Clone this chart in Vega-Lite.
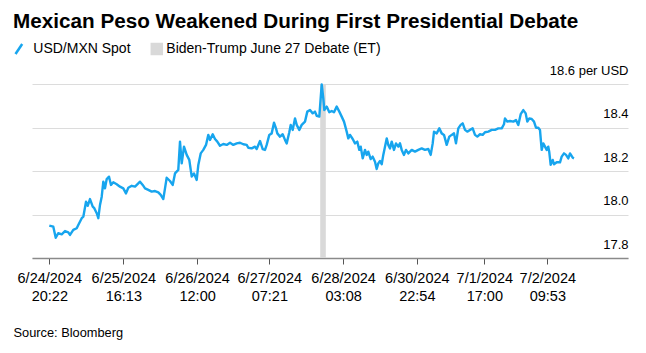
{
  "$schema": "https://vega.github.io/schema/vega-lite/v6.json",
  "width": 596,
  "height": 174,
  "autosize": {"type": "none"},
  "padding": {"left": 32, "top": 84, "right": 18, "bottom": 95},
  "background": "white",
  "config": {
    "font": "Liberation Sans",
    "view": {"stroke": null}
  },
  "title": {
    "text": "Mexican Peso Weakened During First Presidential Debate",
    "anchor": "start",
    "frame": "group",
    "baseline": "alphabetic",
    "fontSize": 20.7,
    "fontWeight": "bold",
    "color": "#000000",
    "dx": -19,
    "offset": -7
  },
  "datasets": {
    "fx": [
      {"h": 0, "v": 17.949}, {"h": 1.07, "v": 17.944}, {"h": 1.72, "v": 17.893}, {"h": 2.41, "v": 17.914},
      {"h": 3.32, "v": 17.909}, {"h": 4.21, "v": 17.924}, {"h": 5.09, "v": 17.918}, {"h": 5.55, "v": 17.906},
      {"h": 6.43, "v": 17.929}, {"h": 7.35, "v": 17.937}, {"h": 7.77, "v": 17.952}, {"h": 8.69, "v": 17.983},
      {"h": 9.12, "v": 17.99}, {"h": 9.84, "v": 18.059}, {"h": 10.29, "v": 18.04}, {"h": 10.91, "v": 18.071},
      {"h": 11.64, "v": 18.036}, {"h": 12.06, "v": 18.029}, {"h": 12.71, "v": 18.006}, {"h": 13.14, "v": 17.983},
      {"h": 13.59, "v": 18.044}, {"h": 14.05, "v": 18.082}, {"h": 14.48, "v": 18.151}, {"h": 14.93, "v": 18.12},
      {"h": 15.39, "v": 18.163}, {"h": 16.01, "v": 18.174}, {"h": 16.54, "v": 18.136}, {"h": 17.16, "v": 18.148},
      {"h": 18.07, "v": 18.139}, {"h": 18.95, "v": 18.128}, {"h": 19.84, "v": 18.12}, {"h": 20.56, "v": 18.097},
      {"h": 21.18, "v": 18.123}, {"h": 22.09, "v": 18.132}, {"h": 22.98, "v": 18.128}, {"h": 23.86, "v": 18.143},
      {"h": 24.32, "v": 18.151}, {"h": 25.04, "v": 18.136}, {"h": 25.66, "v": 18.12}, {"h": 26.54, "v": 18.113},
      {"h": 27.45, "v": 18.105}, {"h": 28.34, "v": 18.108}, {"h": 29.22, "v": 18.102}, {"h": 29.87, "v": 18.09},
      {"h": 30.56, "v": 18.071}, {"h": 31.02, "v": 18.12}, {"h": 31.47, "v": 18.169}, {"h": 32.36, "v": 18.154},
      {"h": 33.08, "v": 18.136}, {"h": 33.7, "v": 18.189}, {"h": 34.58, "v": 18.205}, {"h": 35.04, "v": 18.335},
      {"h": 35.5, "v": 18.235}, {"h": 36.11, "v": 18.312}, {"h": 36.84, "v": 18.274}, {"h": 37.53, "v": 18.251},
      {"h": 38.18, "v": 18.174}, {"h": 38.79, "v": 18.189}, {"h": 39.52, "v": 18.159}, {"h": 39.95, "v": 18.228},
      {"h": 40.59, "v": 18.281}, {"h": 41.29, "v": 18.297}, {"h": 42.01, "v": 18.32}, {"h": 42.63, "v": 18.366},
      {"h": 43.08, "v": 18.343}, {"h": 43.81, "v": 18.369}, {"h": 44.42, "v": 18.347}, {"h": 45.04, "v": 18.335},
      {"h": 45.76, "v": 18.316}, {"h": 46.65, "v": 18.324}, {"h": 47.56, "v": 18.32}, {"h": 48.45, "v": 18.33},
      {"h": 49.33, "v": 18.32}, {"h": 50.24, "v": 18.327}, {"h": 51.13, "v": 18.33}, {"h": 52.01, "v": 18.323},
      {"h": 52.92, "v": 18.32}, {"h": 53.35, "v": 18.307}, {"h": 54.26, "v": 18.304}, {"h": 55.15, "v": 18.312},
      {"h": 55.6, "v": 18.301}, {"h": 56.49, "v": 18.338}, {"h": 57.21, "v": 18.301}, {"h": 57.83, "v": 18.297},
      {"h": 58.28, "v": 18.32}, {"h": 58.98, "v": 18.366}, {"h": 59.62, "v": 18.373}, {"h": 60.24, "v": 18.422},
      {"h": 60.78, "v": 18.396}, {"h": 61.13, "v": 18.373}, {"h": 61.85, "v": 18.358}, {"h": 62.57, "v": 18.369},
      {"h": 63.19, "v": 18.343}, {"h": 63.65, "v": 18.327}, {"h": 64.34, "v": 18.378}, {"h": 64.72, "v": 18.412},
      {"h": 65.25, "v": 18.389}, {"h": 65.87, "v": 18.442}, {"h": 66.33, "v": 18.412}, {"h": 67.02, "v": 18.389},
      {"h": 67.67, "v": 18.412}, {"h": 68.55, "v": 18.427}, {"h": 69.17, "v": 18.473}, {"h": 69.89, "v": 18.48},
      {"h": 70.62, "v": 18.465}, {"h": 71.23, "v": 18.473}, {"h": 71.69, "v": 18.454}, {"h": 72.39, "v": 18.45},
      {"h": 73.03, "v": 18.598}, {"h": 73.46, "v": 18.534}, {"h": 73.73, "v": 18.48}, {"h": 74.37, "v": 18.496},
      {"h": 75.07, "v": 18.47}, {"h": 75.71, "v": 18.476}, {"h": 76.33, "v": 18.47}, {"h": 77.05, "v": 18.496},
      {"h": 77.75, "v": 18.473}, {"h": 78.39, "v": 18.45}, {"h": 79.01, "v": 18.427}, {"h": 79.73, "v": 18.381},
      {"h": 80.16, "v": 18.35}, {"h": 80.62, "v": 18.366}, {"h": 81.34, "v": 18.347}, {"h": 81.96, "v": 18.327},
      {"h": 82.57, "v": 18.335}, {"h": 83.11, "v": 18.297}, {"h": 83.49, "v": 18.312}, {"h": 84.02, "v": 18.258},
      {"h": 84.64, "v": 18.297}, {"h": 85.09, "v": 18.274}, {"h": 85.52, "v": 18.289}, {"h": 86.17, "v": 18.255},
      {"h": 86.7, "v": 18.266}, {"h": 87.32, "v": 18.243}, {"h": 87.77, "v": 18.209}, {"h": 88.2, "v": 18.235},
      {"h": 88.66, "v": 18.246}, {"h": 89.12, "v": 18.231}, {"h": 89.54, "v": 18.274}, {"h": 90.0, "v": 18.312},
      {"h": 90.46, "v": 18.35}, {"h": 90.88, "v": 18.32}, {"h": 91.34, "v": 18.304}, {"h": 91.8, "v": 18.335},
      {"h": 92.41, "v": 18.297}, {"h": 92.95, "v": 18.327}, {"h": 93.57, "v": 18.312}, {"h": 94.02, "v": 18.327},
      {"h": 94.48, "v": 18.297}, {"h": 95.09, "v": 18.274}, {"h": 95.63, "v": 18.297}, {"h": 96.25, "v": 18.281},
      {"h": 97.16, "v": 18.297}, {"h": 98.04, "v": 18.289}, {"h": 98.93, "v": 18.297}, {"h": 99.84, "v": 18.304},
      {"h": 100.72, "v": 18.297}, {"h": 101.61, "v": 18.301}, {"h": 102.25, "v": 18.274}, {"h": 102.79, "v": 18.327},
      {"h": 103.14, "v": 18.381}, {"h": 103.86, "v": 18.373}, {"h": 104.56, "v": 18.396}, {"h": 105.2, "v": 18.373},
      {"h": 105.82, "v": 18.366}, {"h": 106.54, "v": 18.32}, {"h": 107.24, "v": 18.358}, {"h": 107.88, "v": 18.366},
      {"h": 108.5, "v": 18.373}, {"h": 109.03, "v": 18.327}, {"h": 109.65, "v": 18.396}, {"h": 110.29, "v": 18.412},
      {"h": 110.83, "v": 18.419}, {"h": 111.45, "v": 18.389}, {"h": 112.06, "v": 18.381}, {"h": 112.79, "v": 18.389},
      {"h": 113.51, "v": 18.396}, {"h": 114.13, "v": 18.366}, {"h": 114.75, "v": 18.358}, {"h": 115.47, "v": 18.369},
      {"h": 116.19, "v": 18.366}, {"h": 116.81, "v": 18.378}, {"h": 117.69, "v": 18.381}, {"h": 118.61, "v": 18.389},
      {"h": 119.49, "v": 18.389}, {"h": 120.38, "v": 18.396}, {"h": 121.29, "v": 18.396}, {"h": 121.9, "v": 18.415},
      {"h": 122.17, "v": 18.442}, {"h": 122.79, "v": 18.427}, {"h": 123.51, "v": 18.43}, {"h": 124.4, "v": 18.427},
      {"h": 125.12, "v": 18.434}, {"h": 125.74, "v": 18.412}, {"h": 126.38, "v": 18.461}, {"h": 127.08, "v": 18.48},
      {"h": 127.72, "v": 18.465}, {"h": 128.15, "v": 18.427}, {"h": 128.69, "v": 18.442}, {"h": 129.33, "v": 18.439},
      {"h": 129.95, "v": 18.427}, {"h": 130.48, "v": 18.399}, {"h": 131.1, "v": 18.399}, {"h": 131.55, "v": 18.389},
      {"h": 131.82, "v": 18.335}, {"h": 132.01, "v": 18.297}, {"h": 132.44, "v": 18.327}, {"h": 132.9, "v": 18.312},
      {"h": 133.35, "v": 18.297}, {"h": 133.78, "v": 18.312}, {"h": 134.05, "v": 18.286}, {"h": 134.42, "v": 18.228},
      {"h": 134.96, "v": 18.251}, {"h": 135.31, "v": 18.231}, {"h": 136.03, "v": 18.24}, {"h": 136.92, "v": 18.24},
      {"h": 137.37, "v": 18.266}, {"h": 137.99, "v": 18.281}, {"h": 138.53, "v": 18.274}, {"h": 139.14, "v": 18.258},
      {"h": 139.6, "v": 18.281}, {"h": 140.32, "v": 18.261}, {"h": 140.67, "v": 18.258}
    ],
    "debate": [
      {"start": 72.63, "end": 74.13}
    ]
  },
  "layer": [
    {
      "data": {"name": "debate"},
      "mark": {"type": "rect"},
      "encoding": {
        "x": {"field": "start", "type": "quantitative"},
        "x2": {"field": "end"},
        "color": {"datum": "Biden-Trump June 27 Debate (ET)"}
      }
    },
    {
      "data": {"name": "fx"},
      "mark": {"type": "line", "strokeWidth": 2.4, "strokeJoin": "round"},
      "encoding": {
        "x": {
          "field": "h",
          "type": "quantitative",
          "scale": {"domain": [-4.64, 155.15], "nice": false, "zero": false},
          "axis": {
            "values": [0, 19.85, 39.63, 58.98, 78.77, 98.53, 116.63, 133.52],
            "labelExpr": "datum.value < 1 ? ['6/24/2024', '20:22'] : datum.value < 20 ? ['6/25/2024', '16:13'] : datum.value < 40 ? ['6/26/2024', '12:00'] : datum.value < 60 ? ['6/27/2024', '07:21'] : datum.value < 80 ? ['6/28/2024', '03:08'] : datum.value < 100 ? ['6/30/2024', '22:54'] : datum.value < 120 ? ['7/1/2024', '17:00'] : ['7/2/2024', '09:53']",
            "grid": false,
            "domain": true,
            "domainColor": "#8a8a8a",
            "domainWidth": 1.5,
            "ticks": true,
            "tickColor": "#555555",
            "tickWidth": 1,
            "tickSize": 6,
            "labelPadding": 7,
            "labelFontSize": 14.5,
            "labelLineHeight": 18,
            "labelColor": "#000000",
            "labelFlush": false,
            "labelOverlap": false,
            "labelBound": false,
            "title": "Source: Bloomberg",
            "titleAnchor": "start",
            "titleAlign": "left",
            "titleBaseline": "alphabetic",
            "titleX": -19,
            "titleY": 78.5,
            "titleFontSize": 12.8,
            "titleFontWeight": "normal",
            "titleColor": "#000000"
          }
        },
        "y": {
          "field": "v",
          "type": "quantitative",
          "scale": {"domain": [17.8, 18.6], "nice": false, "zero": false},
          "axis": {
            "orient": "right",
            "values": [17.8, 18.0, 18.2, 18.4, 18.6],
            "labelExpr": "datum.value > 18.59 ? '18.6 per USD' : format(datum.value, '.1f')",
            "grid": true,
            "gridColor": "#dcdcdc",
            "gridWidth": 1,
            "domain": false,
            "ticks": false,
            "tickSize": 0,
            "labelPadding": 0,
            "labelAlign": "right",
            "labelBaseline": "alphabetic",
            "labelOffset": -10,
            "labelFontSize": 13,
            "labelColor": "#000000",
            "labelFlush": false,
            "labelOverlap": false,
            "labelBound": false,
            "title": null
          }
        },
        "color": {
          "datum": "USD/MXN Spot",
          "scale": {
            "domain": ["USD/MXN Spot", "Biden-Trump June 27 Debate (ET)"],
            "range": ["#17a5ee", "#d9d9d9"]
          },
          "legend": {
            "orient": "none",
            "legendX": -15.2,
            "legendY": -42,
            "direction": "horizontal",
            "title": null,
            "padding": 0,
            "labelFontSize": 14,
            "labelColor": "#000000",
            "labelLimit": 0,
            "labelOffset": 2.5,
            "columnPadding": 16,
            "symbolSize": 100,
            "encode": {
              "symbols": {
                "update": {
                  "shape": {"signal": "datum.value === 'USD/MXN Spot' ? 'M-1.66,1L-0.32,-1' : 'square'"},
                  "fill": {"signal": "datum.value === 'USD/MXN Spot' ? 'transparent' : '#d9d9d9'"},
                  "stroke": {"signal": "datum.value === 'USD/MXN Spot' ? '#17a5ee' : 'transparent'"},
                  "strokeWidth": {"value": 2.5},
                  "size": {"value": 100},
                  "opacity": {"value": 1},
                  "fillOpacity": {"value": 1},
                  "strokeOpacity": {"value": 1}
                }
              }
            }
          }
        }
      }
    }
  ]
}
